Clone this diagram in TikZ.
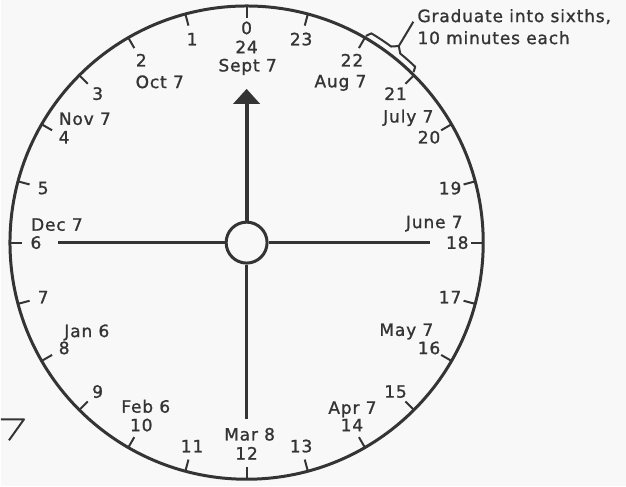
\documentclass[tikz,border=0pt]{standalone}
\usepackage{fontspec}
\setmainfont{DejaVu Sans}[LetterSpace=5.0, FakeBold=1.2]
\usepackage{tikz}
\usetikzlibrary{arrows.meta, positioning}
\definecolor{inkgrey}{RGB}{52, 52, 52}
\definecolor{paper}{RGB}{248, 248, 248}

\begin{document}
\begin{tikzpicture}[
    x=1pt, y=1pt,
    rim/.style={draw=inkgrey, line width=3pt},
    tickmark/.style={draw=inkgrey, line width=2pt},
    hub/.style={
        circle, draw=inkgrey, fill=paper, line width=3pt, minimum size=41pt, inner sep=0pt
    },
    spoke/.style={draw=inkgrey, line width=3pt},
    pointer/.style={
        -{Triangle[width=26pt, length=15pt]}, draw=inkgrey, fill=inkgrey, line width=4pt
    },
    hour/.style={
        font=\fontsize{17}{20}\selectfont, text=inkgrey, inner sep=0pt
    },
    month/.style={
        font=\fontsize{17}{20}\selectfont, text=inkgrey, inner sep=0pt
    },
    note/.style={
        font=\fontsize{17}{22}\selectfont, text=inkgrey, align=left, inner sep=0pt
    },
    brace/.style={draw=inkgrey, line width=2pt, line join=round}
]

% Page (fixes the margins)
\fill[paper] (-246,-244) rectangle (380,243);

% Dial: rim and hour ticks
\draw[rim] (0,0) circle[radius=237];
\foreach \h in {0,...,23}
    \draw[tickmark] (90+15*\h:237) -- (90+15*\h:225);

% Hour numbers
\foreach \h in {1,...,23}
    \node[hour] (h\h) at (90+15*\h:211) {\h};
\node[hour] (h0) at (90:215) {0};
\node[hour] (h24) at (90:196) {24};

% Dates
\foreach \nm/\px/\py/\txt in {
    sept/1/176/Sept 7, oct/-87/161/Oct 7, nov/-162/124/Nov 7,
    dec/-190/18/Dec 7, jan/-160/-90/Jan 6, feb/-101/-164/Feb 6,
    mar/3/-192/Mar 8, apr/106/-167/Apr 7, may/160/-89/May 7,
    june/188/19/June 7, july/162/125/July 7, aug/94/160/Aug 7}
    \node[month] (\nm) at (\px,\py) {\txt};

% Hub, spokes and pointer
\node[hub] (hub) at (0,0) {};
\coordinate (westend) at (-189,0);
\coordinate (eastend) at (184,0);
\coordinate (southend) at (0,-177);
\coordinate (pointtip) at (0,154);
\draw[spoke] (hub.west) -- (westend);
\draw[spoke] (hub.east) -- (eastend);
\draw[spoke] (hub.south) -- (southend);
\draw[pointer] (hub.north) -- (pointtip);

% Graduation note with brace
\node[note, anchor=north west] (gradnote) at (171,234) {Graduate into sixths,\\10 minutes each};
\coordinate (bracetip) at (52.25:249);
\draw[brace] (60:239) -- (59.2:244) arc[start angle=59.2, end angle=53.6, radius=244]
    -- (bracetip) -- (50.9:244) arc[start angle=50.9, end angle=46.2, radius=244] -- (45.6:239);
\draw[brace] (bracetip) -- ([xshift=-4pt, yshift=5pt]gradnote.west);

% Edge of the neighbouring figure
\draw[brace] (-246,-177) -- (-223,-177) -- (-238,-198);

\end{tikzpicture}
\end{document}
